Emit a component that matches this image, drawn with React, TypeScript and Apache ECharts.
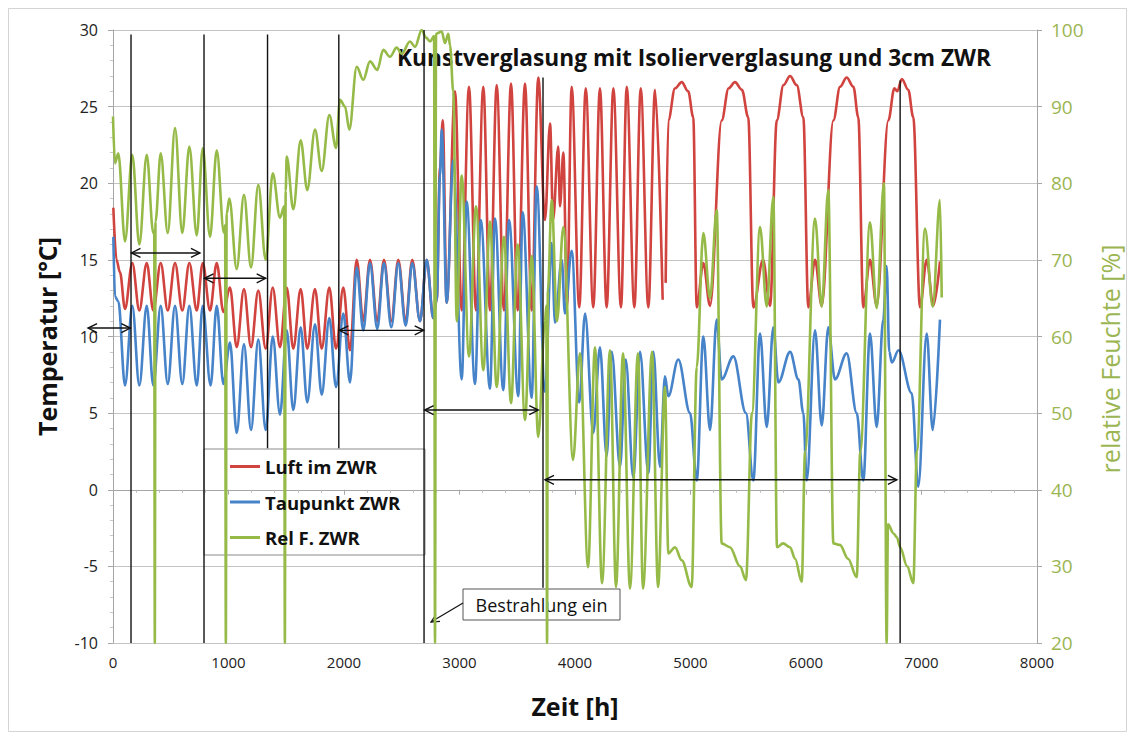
import React, { useEffect, useRef } from 'react';
import * as echarts from 'echarts';

const seriesNames = ['Luft im ZWR', 'Taupunkt ZWR', 'Rel F. ZWR'];

// Luft im ZWR [h, °C]
const luft: any[] = [
  [3, 18.4], [30, 15.0], [60, 14.2], [104, 11.8], [167, 14.8], [228, 11.7], [292, 14.8], [349, 11.7], [413, 14.8], [474, 11.7],
  [537, 14.8], [600, 11.7], [661, 14.8], [725, 11.7], [777, 14.8], [840, 11.7], [898, 14.8], [956, 11.6], [1013, 13.2], [1071, 9.3],
  [1134, 13.1], [1195, 9.3], [1258, 13.0], [1322, 9.2], [1383, 13.2], [1446, 9.3], [1504, 13.2], [1561, 9.2], [1625, 13.1], [1682, 9.2],
  [1749, 13.1], [1807, 9.2], [1873, 13.2], [1931, 9.2], [1994, 13.2], [2052, 9.1], [2110, 15.0], [2167, 11.0], [2225, 15.0], [2288, 11.0],
  [2346, 15.0], [2410, 11.0], [2470, 15.0], [2534, 11.0], [2591, 15.0], [2658, 11.0], [2716, 15.0], [2773, 11.2], [2803, 12.4], [2831, 21.0],
  [2855, 24.1], [2889, 12.2], [2961, 26.0], [3019, 11.7], [3082, 26.3], [3143, 11.7], [3206, 26.3], [3264, 11.7], [3322, 26.4], [3385, 11.7],
  [3446, 26.5], [3504, 11.7], [3567, 26.5], [3625, 11.7], [3682, 26.9], [3740, 17.6], [3784, 23.9], [3810, 17.6], [3855, 22.4], [3870, 18.5],
  [3899, 22.0], [3931, 12.0], [3971, 26.3], [4037, 11.9], [4093, 26.2], [4158, 11.9], [4216, 26.2], [4274, 11.9], [4332, 26.2], [4398, 11.9],
  [4448, 26.3], [4514, 11.9], [4569, 26.2], [4635, 11.9], [4693, 26.1], [4759, 12.4], [4770, '-'], [4785, 13.5], [4808, 24.1], [4866, 26.2],
  [4924, 26.6], [4980, 26.0], [5024, 24.3], [5054, 11.9], [5111, 14.8], [5169, 12.0], [5270, 24.1], [5330, 26.2], [5385, 26.6], [5445, 26.1],
  [5500, 24.3], [5544, 11.9], [5628, 15.0], [5689, 12.0], [5747, 24.1], [5805, 26.4], [5862, 27.0], [5920, 26.4], [5977, 24.3], [6020, 11.9],
  [6078, 15.0], [6136, 12.0], [6237, 24.1], [6295, 26.3], [6352, 26.9], [6410, 26.3], [6453, 24.3], [6496, 11.9], [6554, 15.0], [6612, 12.0],
  [6713, 24.1], [6765, 26.2], [6790, 26.0], [6830, 26.8], [6885, 26.1], [6929, 24.3], [6987, 11.9], [7045, 15.0], [7102, 12.0], [7160, 14.9],
];

// Taupunkt ZWR [h, °C]
const taupunkt: any[] = [
  [3, 16.5], [17, 12.6], [46, 12.3], [104, 6.8], [167, 12.0], [228, 6.8], [292, 12.0], [349, 6.8], [413, 12.0], [474, 6.9],
  [537, 12.0], [600, 6.9], [661, 12.0], [725, 6.8], [777, 12.0], [845, 6.8], [898, 12.0], [956, 6.9], [1013, 9.6], [1071, 3.7],
  [1134, 9.5], [1195, 3.9], [1258, 9.8], [1322, 3.9], [1383, 10.0], [1446, 4.9], [1504, 10.4], [1561, 5.2], [1625, 10.6], [1682, 5.7],
  [1749, 10.8], [1807, 6.2], [1873, 11.2], [1931, 6.7], [1994, 11.5], [2052, 7.0], [2110, 14.5], [2167, 10.4], [2225, 14.8], [2288, 10.5],
  [2346, 14.8], [2410, 10.6], [2470, 14.8], [2534, 10.7], [2591, 14.8], [2658, 11.0], [2716, 15.0], [2773, 11.2], [2803, 12.4], [2831, 20.5],
  [2846, 23.5], [2889, 12.2], [2946, 21.5], [3019, 7.2], [3062, 18.8], [3134, 6.9], [3184, 17.6], [3264, 6.6], [3307, 17.7], [3379, 6.5],
  [3429, 17.6], [3509, 6.1], [3547, 18.1], [3625, 6.0], [3668, 19.8], [3740, 6.4], [3798, 16.1], [3827, 10.9], [3885, 15.0], [3913, 11.5],
  [3971, 15.6], [4037, 5.7], [4087, 11.5], [4158, 3.7], [4216, 9.3], [4274, 2.2], [4318, 9.0], [4390, 1.5], [4439, 8.5], [4505, 0.8],
  [4563, 9.0], [4635, 1.1], [4678, 9.0], [4736, 1.5], [4779, 7.4], [4808, 6.1], [4894, 8.5], [4996, 5.0], [5054, 0.6], [5111, 10.0],
  [5169, 3.9], [5227, 11.1], [5270, 7.2], [5371, 8.7], [5480, 5.0], [5544, 0.6], [5602, 10.2], [5660, 4.1], [5717, 10.6], [5761, 7.0],
  [5862, 9.0], [5934, 7.2], [5977, 5.0], [6006, 0.6], [6078, 10.4], [6136, 4.2], [6193, 10.6], [6251, 7.2], [6352, 8.9], [6439, 5.0],
  [6496, 0.6], [6554, 10.2], [6612, 4.1], [6669, 11.1], [6698, 14.6], [6721, 9.0], [6744, 8.3], [6801, 9.1], [6915, 6.3], [6972, 0.2],
  [7045, 10.2], [7097, 3.9], [7160, 11.1],
];

// Rel F. ZWR [h, %]
const relF: any[] = [
  [0, 88.7], [17, 82.6], [46, 83.9], [104, 72.4], [167, 83.7], [228, 72.0], [292, 83.7], [349, 73.5], [357, 73.8], [362, 20], [368, 75.0],
  [413, 83.9], [474, 73.5], [537, 87.2], [600, 73.5], [661, 84.8], [725, 73.2], [777, 84.6], [840, 73.0], [898, 84.3], [961, 73.5],
  [971, 74.5], [977, 20], [984, 76.0], [1007, 78.0], [1071, 68.8], [1134, 78.5], [1195, 69.0], [1258, 79.8], [1322, 70.0], [1383, 81.3],
  [1446, 75.5], [1482, 77.0], [1488, 20], [1495, 79.0], [1504, 83.5], [1561, 76.6], [1625, 85.6], [1682, 79.1], [1749, 87.0], [1807, 81.6],
  [1873, 88.9], [1931, 84.6], [1965, 90.9], [2009, 90.0], [2046, 87.0], [2110, 95.2], [2167, 93.5], [2225, 95.9], [2288, 94.8], [2340, 97.4],
  [2398, 96.5], [2456, 97.7], [2500, 96.9], [2571, 98.5], [2615, 97.8], [2673, 100], [2710, 99.0], [2745, 98.5], [2780, 99.2], [2788, 20],
  [2797, 99.5], [2846, 99.8], [2874, 98.3], [2903, 99.5], [2918, 98.0], [2946, 92.0], [2976, 62.0], [3019, 81.0], [3082, 57.4], [3143, 77.0],
  [3206, 55.6], [3264, 75.0], [3322, 53.4], [3385, 73.0], [3446, 51.3], [3504, 72.0], [3567, 49.1], [3625, 70.5], [3682, 46.9], [3740, 62.0],
  [3752, 64.0], [3758, 20], [3765, 66.0], [3798, 77.8], [3844, 62.0], [3899, 74.3], [3983, 43.9], [4043, 57.8], [4113, 29.9], [4173, 58.6],
  [4234, 27.8], [4303, 58.2], [4355, 27.3], [4416, 57.8], [4476, 27.1], [4545, 57.8], [4589, 27.1], [4667, 58.0], [4719, 27.3], [4779, 53.4],
  [4808, 31.7], [4866, 32.5], [4924, 30.8], [5010, 27.3], [5054, 56.0], [5111, 73.5], [5169, 65.0], [5227, 76.5], [5270, 33.0], [5341, 32.5],
  [5429, 30.0], [5480, 28.2], [5532, 50.0], [5602, 74.3], [5660, 63.9], [5717, 78.2], [5749, 32.5], [5801, 33.0], [5862, 32.5], [5905, 31.0],
  [5963, 28.0], [5992, 45.0], [6078, 75.4], [6136, 63.9], [6193, 79.1], [6237, 33.0], [6294, 32.8], [6364, 31.0], [6439, 28.6], [6470, 45.0],
  [6554, 74.9], [6612, 63.7], [6675, 80.0], [6698, 20], [6710, 35.5], [6758, 34.3], [6787, 33.8], [6815, 32.5], [6876, 30.0], [6929, 27.8],
  [6960, 45.0], [7030, 74.1], [7097, 63.9], [7160, 77.8], [7175, 65.1],
];

// black vertical marker lines [x1, y1, x2, y2, kind]
const markerLines: number[][] = [
  [156, 29.7, 156, -10, 0], [788, 29.7, 788, -10, 0], [1338, 29.7, 1338, 2.7, 0], [1955, 29.7, 1955, 2.7, 0],
  [2693, 30, 2693, -10, 0], [3723, 26.9, 3723, -6.4, 0], [6815, 26.7, 6815, -10, 0],
];
// double-headed arrows [x1, y1, x2, y2, kind]
const arrowLines: number[][] = [
  [-216, 10.55, 150, 10.55, 1], [160, 15.45, 753, 15.45, 1], [792, 13.8, 1322, 13.8, 1], [1960, 10.4, 2690, 10.4, 1],
  [2698, 5.2, 3682, 5.2, 1], [3740, 0.65, 6787, 0.65, 1],
];

const RED = '#d0433e';
const BLUE = '#4683c9';
const GREEN = '#96ba48';
const GREEN_TXT = '#9bb552';
const FONT = '"Open Sans", Lato, sans-serif';

export default function App() {
  const ref = useRef<HTMLDivElement>(null);
  useEffect(() => {
    if (!ref.current) return;
    const chart = echarts.init(ref.current, undefined, { renderer: 'svg' });
    const annotations = [...markerLines, ...arrowLines];
    const option: any = {
      animation: false,
      backgroundColor: '#fff',
      textStyle: { fontFamily: FONT },
      grid: { left: 113, right: 94, top: 30, bottom: 93, containLabel: false },
      legend: {
        orient: 'vertical',
        left: 230,
        top: 457,
        padding: 0,
        itemGap: 16.5,
        itemWidth: 30,
        itemHeight: 3,
        icon: 'rect',
        data: seriesNames,
        textStyle: { fontFamily: FONT, fontWeight: 'bold', fontSize: 18.5, color: '#111' },
        z: 20,
      },
      xAxis: {
        type: 'value', min: 0, max: 8000, interval: 1000,
        name: 'Zeit [h]', nameLocation: 'middle', nameGap: 50,
        nameTextStyle: { fontFamily: FONT, fontWeight: 'bold', fontSize: 25, color: '#111' },
        axisLine: { show: true, lineStyle: { color: '#a6a6a6' } },
        axisTick: { show: true, length: 5, lineStyle: { color: '#a6a6a6' } },
        minorTick: { show: true, splitNumber: 5, length: 3, lineStyle: { color: '#bbbbbb' } },
        splitLine: { show: false },
        axisLabel: { fontFamily: FONT, fontSize: 15, color: '#222', margin: 11, formatter: (v: number) => String(v) },
      },
      yAxis: [
        {
          type: 'value', min: -10, max: 30, interval: 5,
          name: 'Temperatur [°C]', nameLocation: 'middle', nameGap: 54, nameRotate: 90,
          nameTextStyle: { fontFamily: FONT, fontWeight: 'bold', fontSize: 25, color: '#111' },
          axisLine: { show: true, lineStyle: { color: '#a6a6a6' } },
          axisTick: { show: true, length: 5, lineStyle: { color: '#a6a6a6' } },
          minorTick: { show: true, splitNumber: 5, length: 3, lineStyle: { color: '#c8c8c8' } },
          splitLine: { show: true, lineStyle: { color: '#c4c4c4', width: 1 } },
          axisLabel: { fontFamily: FONT, fontSize: 16, color: '#222', margin: 15 },
        },
        {
          type: 'value', min: 20, max: 100, interval: 10, position: 'right',
          axisLine: { show: true, lineStyle: { color: '#a6a6a6' } },
          axisTick: { show: true, length: 5, lineStyle: { color: '#a6a6a6' } },
          splitLine: { show: false },
          axisLabel: { fontFamily: FONT, fontSize: 19, color: GREEN_TXT, margin: 14 },
        },
      ],
      series: [
        {
          name: seriesNames[0], type: 'line', data: luft, symbol: 'none', smooth: 0.35, smoothMonotone: 'x',
          lineStyle: { color: RED, width: 2.6 }, itemStyle: { color: RED }, connectNulls: false, z: 2,
        },
        {
          name: seriesNames[1], type: 'line', data: taupunkt, symbol: 'none', smooth: 0.35, smoothMonotone: 'x',
          lineStyle: { color: BLUE, width: 2.6 }, itemStyle: { color: BLUE }, z: 2,
        },
        {
          name: seriesNames[2], type: 'line', yAxisIndex: 1, data: relF, symbol: 'none', smooth: 0.35, smoothMonotone: 'x',
          lineStyle: { color: GREEN, width: 2.6 }, itemStyle: { color: GREEN }, z: 2,
        },
        {
          name: 'annotations', type: 'custom', clip: false, z: 3, silent: true,
          data: annotations,
          encode: { x: [0, 2], y: [1, 3] },
          renderItem: (params: any, api: any) => {
            const p1 = api.coord([api.value(0), api.value(1)]);
            const p2 = api.coord([api.value(2), api.value(3)]);
            const kind = api.value(4);
            const st = { stroke: '#111', lineWidth: 1.4, fill: 'none' };
            const children: any[] = [
              { type: 'line', shape: { x1: p1[0], y1: p1[1], x2: p2[0], y2: p2[1] }, style: st },
            ];
            if (kind === 1) {
              const w = 9, h = 4.5;
              children.push({ type: 'polyline', shape: { points: [[p1[0] + w, p1[1] - h], [p1[0], p1[1]], [p1[0] + w, p1[1] + h]] }, style: st });
              children.push({ type: 'polyline', shape: { points: [[p2[0] - w, p2[1] - h], [p2[0], p2[1]], [p2[0] - w, p2[1] + h]] }, style: st });
            }
            return { type: 'group', children };
          },
        },
      ],
      graphic: {
        z: 10,
        elements: [
          { type: 'rect', shape: { x: 8.5, y: 8.5, width: 1118, height: 723 }, style: { fill: 'none', stroke: '#d4d4d4', lineWidth: 1 }, silent: true },
          {
            type: 'text', x: 694, y: 57,
            style: { text: 'Kunstverglasung mit Isolierverglasung und 3cm ZWR', align: 'center', verticalAlign: 'middle', fontFamily: FONT, fontWeight: 'bold', fontSize: 22.7, fill: '#111' },
          },
          {
            type: 'text', x: 1110, y: 359, rotation: Math.PI / 2,
            style: { text: 'relative Feuchte [%]', align: 'center', verticalAlign: 'middle', fontFamily: FONT, fontSize: 25, fill: GREEN_TXT },
          },
          { type: 'rect', shape: { x: 204, y: 449, width: 221, height: 106 }, style: { fill: '#fff', stroke: '#8a8a8a', lineWidth: 1 } },
          { type: 'rect', shape: { x: 463, y: 589, width: 157, height: 31 }, style: { fill: '#fff', stroke: '#555', lineWidth: 1 } },
          {
            type: 'text', x: 541.5, y: 605,
            style: { text: 'Bestrahlung ein', align: 'center', verticalAlign: 'middle', fontFamily: FONT, fontSize: 18, fill: '#111' },
          },
          { type: 'line', shape: { x1: 463, y1: 603, x2: 431, y2: 622 }, style: { stroke: '#111', lineWidth: 1.2 } },
          { type: 'polyline', shape: { points: [[440, 621.3], [431, 622], [436, 614.5]] }, style: { stroke: '#111', fill: 'none', lineWidth: 1.2 } },
        ],
      },
    };
    chart.setOption(option);
    return () => chart.dispose();
  }, []);
  return <div ref={ref} style={{ position: 'absolute', left: 0, top: 0, width: 1131, height: 736 }} />;
}
